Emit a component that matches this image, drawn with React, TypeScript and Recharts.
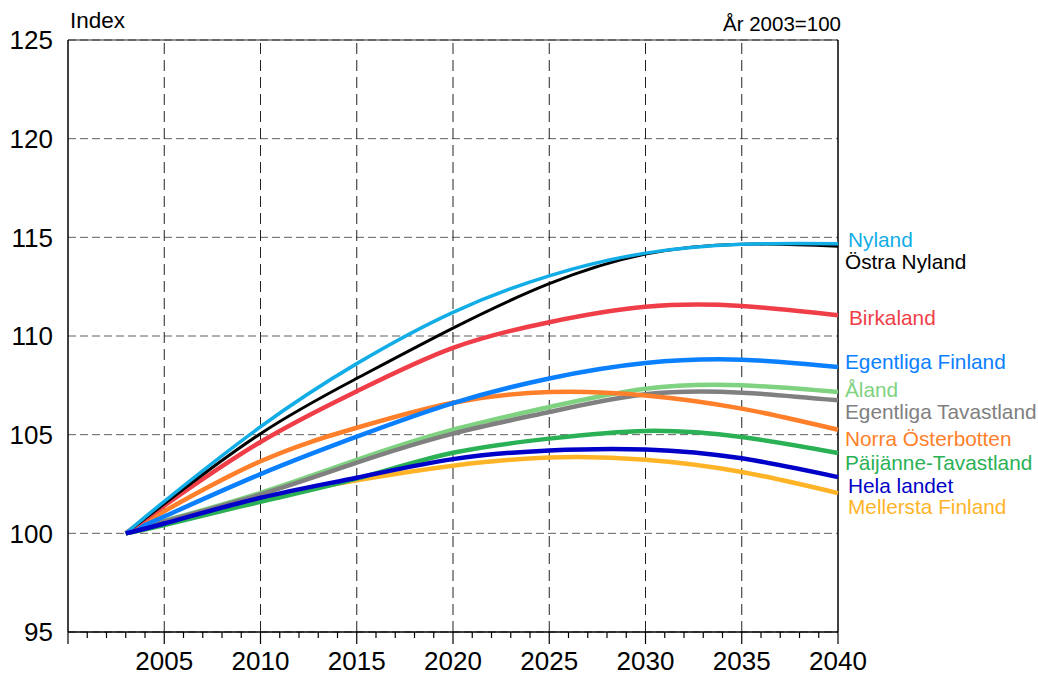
import { LineChart, Line, XAxis, YAxis, CartesianGrid, ReferenceLine } from "recharts";

const years = [2003, 2005, 2010, 2015, 2020, 2025, 2030, 2035, 2040];

const nyland = [100, 101.62, 105.4, 108.6, 111.2, 113.05, 114.2, 114.65, 114.68];
const ostraNyland = [100, 101.5, 105.05, 107.85, 110.4, 112.65, 114.15, 114.65, 114.55];
const birkaland = [100, 101.4, 104.63, 107.2, 109.4, 110.7, 111.48, 111.52, 111.05];
const egFinland = [100, 100.85, 103.0, 104.9, 106.6, 107.85, 108.63, 108.8, 108.43];
const aland = [100, 100.62, 102.05, 103.72, 105.25, 106.4, 107.33, 107.5, 107.16];
const egTavastland = [100, 100.6, 101.97, 103.58, 105.05, 106.15, 107.05, 107.13, 106.74];
const norraOsterbotten = [100, 101.12, 103.65, 105.35, 106.62, 107.16, 106.99, 106.32, 105.25];
const paijanne = [100, 100.42, 101.6, 102.77, 104.08, 104.8, 105.19, 104.88, 104.07];
const helaLandet = [100, 100.5, 101.8, 102.82, 103.76, 104.2, 104.25, 103.8, 102.85];
const mellersta = [100, 100.47, 101.72, 102.69, 103.43, 103.84, 103.73, 103.11, 102.04];

const yTicks = [95, 100, 105, 110, 115, 120, 125];
const majorYears = [2005, 2010, 2015, 2020, 2025, 2030, 2035];
const allYears = Array.from({ length: 41 }, (_, i) => 2000 + i);

const FONT = "'Liberation Sans', Arial, Helvetica, sans-serif";

// bottom to top drawing order
const series = [
  { key: "mellersta", name: "Mellersta Finland", values: mellersta, color: "#ffb428", width: 4.5, dx: 10, dy: 13 },
  { key: "paijanne", name: "Päijänne-Tavastland", values: paijanne, color: "#2bb155", width: 4.5, dx: 7, dy: 9 },
  { key: "aland", name: "Åland", values: aland, color: "#7fd27f", width: 4.5, dx: 7, dy: -3 },
  { key: "egTavastland", name: "Egentliga Tavastland", values: egTavastland, color: "#808080", width: 4.5, dx: 7, dy: 11 },
  { key: "norra", name: "Norra Österbotten", values: norraOsterbotten, color: "#ff7f2a", width: 4.5, dx: 7, dy: 9 },
  { key: "egFinland", name: "Egentliga Finland", values: egFinland, color: "#0a80ff", width: 4.5, dx: 7, dy: -5 },
  { key: "birkaland", name: "Birkaland", values: birkaland, color: "#ef3e48", width: 4.5, dx: 11, dy: 2 },
  { key: "ostraNyland", name: "Östra Nyland", values: ostraNyland, color: "#000000", width: 3, dx: 7, dy: 15 },
  { key: "nyland", name: "Nyland", values: nyland, color: "#12ade6", width: 3.5, dx: 10, dy: -4 },
  { key: "hela", name: "Hela landet", values: helaLandet, color: "#0000c8", width: 4.5, dx: 10, dy: 8 },
];

const rows = years.map((year, i) => {
  const row: Record<string, number> = { year };
  series.forEach((s) => (row[s.key] = s.values[i]));
  return row;
});

function YearTick({ x, y, payload }: any) {
  const yr = payload.value;
  const major = yr % 5 === 0;
  return (
    <g>
      <line x1={x} x2={x} y1={y} y2={y + (major ? 12 : 6)} stroke="#000" strokeWidth={1.2} />
      {major && yr > 2000 && (
        <text x={x} y={y + 38} textAnchor="middle" fontSize={26} fill="#000" fontFamily={FONT}>
          {yr}
        </text>
      )}
    </g>
  );
}

const endLabel = (name: string, color: string, dx: number, dy: number) => (p: any) =>
  p.index === years.length - 1 ? (
    <text
      key={p.key}
      x={p.cx + dx}
      y={p.cy + dy}
      fill={color}
      fontSize={20.8}
      fontFamily={FONT}
      dominantBaseline="central"
    >
      {name}
    </text>
  ) : (
    <g key={p.key} />
  );

export default function App() {
  return (
    <div style={{ position: "absolute", left: 0, top: 0, width: 1038, height: 676, background: "#fff" }}>
      <LineChart width={1038} height={676} data={rows} margin={{ top: 40, right: 200, bottom: 0, left: 0 }}>
        <CartesianGrid vertical={false} stroke="#606060" strokeDasharray="8 4" />
        {majorYears.map((yr) => (
          <ReferenceLine key={yr} x={yr} stroke="#222" strokeDasharray="11 6" />
        ))}
        <ReferenceLine y={125} stroke="#222" strokeWidth={1.2} />
        <ReferenceLine x={2040} stroke="#000" strokeWidth={1.5} />
        <XAxis
          dataKey="year"
          type="number"
          domain={[2000, 2040]}
          ticks={allYears}
          interval={0}
          height={44}
          tickLine={false}
          tickSize={0}
          tickMargin={0}
          axisLine={{ stroke: "#000", strokeWidth: 1.5 }}
          tick={<YearTick />}
        />
        <YAxis
          type="number"
          domain={[95, 125]}
          ticks={yTicks}
          interval={0}
          width={68}
          tickLine={false}
          tickSize={0}
          tickMargin={15}
          axisLine={{ stroke: "#000", strokeWidth: 1.5 }}
          tick={{ fontSize: 26, fill: "#000", fontFamily: FONT }}
        />
        {series.map((s) => (
          <Line
            key={s.key}
            dataKey={s.key}
            type="natural"
            stroke={s.color}
            strokeWidth={s.width}
            dot={endLabel(s.name, s.color, s.dx, s.dy)}
            activeDot={false}
            isAnimationActive={false}
          />
        ))}
      </LineChart>
      <svg width={1038} height={676} style={{ position: "absolute", left: 0, top: 0, pointerEvents: "none" }}>
        <text x={70} y={28} fontSize={22.5} fontFamily={FONT} fill="#000">
          Index
        </text>
        <text x={841} y={31} fontSize={20.5} fontFamily={FONT} fill="#000" textAnchor="end">
          År 2003=100
        </text>
      </svg>
    </div>
  );
}
